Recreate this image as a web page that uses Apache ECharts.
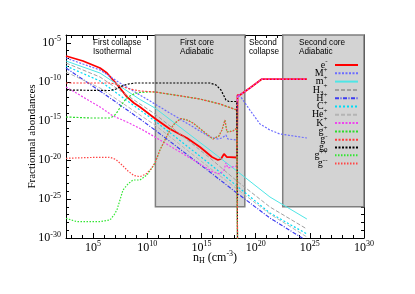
<!DOCTYPE html>
<html><head><meta charset="utf-8">
<script src="https://cdn.jsdelivr.net/npm/echarts@6/dist/echarts.min.js"></script>
<style>html,body{margin:0;padding:0;background:#fff}#c{width:415px;height:294px}</style>
</head><body><div id="c"></div>
<script>
// All values are log10: x = log10(nH / cm^-3), y = log10(fractional abundance)
const xMajorTicks = [5, 10, 15, 20, 25, 30];
const xMinorTicks = [3,4,6,7,8,9,11,12,13,14,16,17,18,19,21,22,23,24,26,27,28,29];
const yMajorTicks = [-30, -25, -20, -15, -10, -5];
const yMinorTicks = [-29,-28,-27,-26,-24,-23,-22,-21,-19,-18,-17,-16,-14,-13,-12,-11,-9,-8,-7,-6,-4];

const firstCoreRange = [10.75, 19.0];
const secondCoreRange = [22.5, 30];
const coreRangeY = [-26, -4];

const eMinus = [[2.5,-6.69],[4.07,-7.33],[5.64,-8.23],[6.28,-8.87],[6.84,-9.76],[7.48,-10.78],[8.13,-11.93],[8.77,-12.71],[9.33,-13.22],[10.71,-14.70],[12.09,-16.04],[13.66,-17.19],[14.86,-18.35],[15.97,-19.63],[16.52,-20.01],[16.80,-19.88],[17.08,-19.24],[17.26,-19.11],[17.35,-19.63],[17.63,-19.63],[18.27,-19.69],[18.33,-11.69],[18.55,-11.69],[19.47,-10.79],[20.58,-9.64],[24.73,-9.64]];
const mPlus = [[2.5,-6.95],[4.07,-7.72],[5.64,-8.48],[7.48,-10.15],[9.33,-11.69],[10.71,-12.84],[12.09,-14.0],[13.94,-15.53],[15.14,-16.55],[15.78,-17.06],[16.52,-17.32],[16.89,-17.19],[17.26,-16.81],[17.44,-17.32],[18.27,-17.45],[18.33,-11.69],[18.64,-11.95],[19.47,-13.61],[20.40,-15.40],[21.32,-16.17],[22.24,-16.68],[24.73,-17.19]];
const mPlusMolecular = [[2.5,-7.33],[5.64,-8.87],[9.33,-12.26],[10.71,-13.35],[15.78,-18.73],[18.27,-21.42],[21.32,-24.75],[24.73,-27.57]];
const h3Plus = [[2.5,-7.59],[5.64,-9.38],[9.33,-12.84],[10.71,-14.12],[15.78,-19.75],[18.27,-22.70],[21.32,-26.03],[24.73,-28.85]];
const hPlus = [[2.5,-8.23],[5.64,-11.17],[9.33,-14.76],[10.71,-16.17],[15.78,-21.55],[18.27,-24.24],[21.32,-27.44],[24.73,-30.38]];
const cPlus = [[2.5,-7.97],[5.64,-9.89],[9.33,-13.61],[10.71,-15.02],[15.78,-20.52],[18.27,-23.34],[21.32,-26.80],[24.73,-29.49]];
const hePlus = [[2.5,-8.74],[5.64,-10.79],[9.33,-14.25],[10.71,-15.53],[15.78,-21.03],[18.27,-23.72],[21.32,-26.93],[24.73,-29.87]];
const kPlus = [[2.5,-10.66],[4.07,-11.94],[5.64,-13.22],[6.84,-14.37],[8.13,-15.14],[9.60,-16.17],[10.71,-17.06],[12.09,-18.22],[13.94,-19.75],[15.33,-20.91],[16.06,-21.55],[16.71,-21.80],[17.08,-21.29],[17.26,-20.39],[17.44,-21.03],[18.27,-20.78],[18.33,-11.69],[18.55,-11.69],[19.47,-10.79],[20.58,-9.64],[24.73,-9.64]];
const gPlus = [[2.5,-14.50],[4.71,-14.63],[6.56,-14.63],[6.93,-14.37],[7.30,-13.73],[7.67,-12.84],[8.04,-12.20],[8.40,-11.81],[8.87,-11.49],[9.33,-11.36],[10.06,-11.30],[10.71,-11.30],[12.56,-11.69],[14.86,-12.20],[16.71,-12.84],[18.27,-13.61],[18.33,-31]];
const gMinus = [[2.5,-10.15],[6.56,-10.15],[7.11,-10.28],[7.67,-10.60],[8.40,-10.92],[9.33,-11.17],[10.71,-11.30],[12.56,-11.69],[14.86,-12.20],[16.71,-12.84],[18.27,-13.61],[18.33,-31]];
const gZero = [[2.5,-11.05],[6.56,-11.11],[7.11,-10.92],[7.67,-10.53],[8.22,-10.28],[8.87,-10.15],[15.78,-10.15],[16.34,-10.40],[16.80,-11.05],[17.08,-11.81],[17.26,-12.33],[17.54,-12.52],[18.27,-12.52],[18.33,-31]];
const gPlusPlus = [[2.5,-27.48],[3.51,-27.91],[5.64,-27.91],[6.56,-27.69],[6.93,-27.05],[7.20,-26.41],[7.48,-25.13],[7.76,-23.85],[8.22,-23.08],[8.68,-22.57],[9.33,-22.57],[9.97,-21.93],[10.43,-21.03],[10.71,-20.39],[11.17,-18.73],[11.63,-17.45],[12.09,-16.17],[12.56,-15.27],[13.11,-14.70],[13.66,-14.89],[14.22,-15.27],[15.14,-16.30],[16.06,-17.32],[16.61,-16.94],[16.89,-16.17],[17.17,-14.89],[17.35,-16.42],[17.90,-16.30],[18.27,-15.91],[18.33,-31]];
const gMinusMinus = [[2.5,-19.79],[4.71,-19.69],[6.56,-19.66],[7.11,-19.95],[7.67,-20.65],[8.22,-21.42],[8.77,-22.0],[9.33,-22.15],[9.88,-21.80],[10.34,-21.16],[10.71,-20.39],[11.17,-18.73],[11.63,-17.45],[12.09,-16.17],[12.56,-15.27],[13.11,-14.70],[13.66,-14.89],[14.22,-15.27],[15.14,-16.30],[16.06,-17.32],[16.61,-16.94],[16.89,-16.17],[17.17,-14.89],[17.35,-16.42],[17.90,-16.30],[18.27,-15.91],[18.33,-31]];

const speciesNames = ['e-','M+','m+','H3+','H+','C+','He+','K+','g+','g-','g0','g++','g--'];
const speciesData = [eMinus,mPlus,mPlusMolecular,h3Plus,hPlus,cPlus,hePlus,kPlus,gPlus,gMinus,gZero,gPlusPlus,gMinusMinus];

const styles = {
  'e-':  {color:'#ff0000', type:'solid', width:1.8},
  'M+':  {color:'#6b6bff', type:[2,1.5], width:1.2},
  'm+':  {color:'#4ee6e6', type:'solid', width:1},
  'H3+': {color:'#a0a0a0', type:[4,2], width:1},
  'H+':  {color:'#3c3cf0', type:[4,1.5,1,1.5], width:1.2},
  'C+':  {color:'#00dcf5', type:[2,2], width:1.2},
  'He+': {color:'#b4b4b4', type:[4,2], width:1},
  'K+':  {color:'#ee44ee', type:[2,1.5], width:1.2},
  'g+':  {color:'#2ddc2d', type:[2,1.5], width:1.2},
  'g-':  {color:'#ff3c3c', type:[2,1.5], width:1.2},
  'g0':  {color:'#000000', type:[2,1.5], width:1.2},
  'g++': {color:'#33e633', type:[1.5,1.5], width:1.2},
  'g--': {color:'#ff4646', type:[1.5,1.5], width:1.2}
};
const legendRich = {
  'e-':'{b|e}{s|-}', 'M+':'{b|M}{s|+}', 'm+':'{b|m}{s|+}', 'H3+':'{b|H}{u|3}{s|+}',
  'H+':'{b|H}{s|+}', 'C+':'{b|C}{s|+}', 'He+':'{b|He}{s|+}', 'K+':'{b|K}{s|+}',
  'g+':'{b|g}{s|+}', 'g-':'{b|g}{s|-}', 'g0':'{b|g}{u|0}', 'g++':'{b|g}{s|++}', 'g--':'{b|g}{s|--}'
};

const SERIF = '"Liberation Serif", "DejaVu Serif", serif';
const SANS = '"Liberation Sans", Arial, sans-serif';
const tickRich = {
  b: {fontFamily: SERIF, fontSize: 12, color: '#000'},
  s: {fontFamily: SERIF, fontSize: 8, color: '#000', padding: [0,0,7,0]},
  u: {fontFamily: SERIF, fontSize: 8, color: '#000', padding: [6,0,0,0]}
};
const supFmt = v => '{b|10}{s|' + v + '}';

function xAx(position, ticks, len, showLine, showLabel) {
  return {
    type: 'value', min: 2.5, max: 30, position: position,
    axisLine: {show: showLine, onZero: false, lineStyle: {color: '#000', width: 1}},
    axisTick: {show: true, inside: true, length: len, customValues: ticks, lineStyle: {color: '#000'}},
    axisLabel: {show: showLabel, customValues: xMajorTicks, formatter: supFmt, rich: tickRich, margin: 2},
    splitLine: {show: false}
  };
}
function yAx(position, ticks, len, showLine, showLabel) {
  return {
    type: 'value', min: -30, max: -4, position: position,
    axisLine: {show: showLine, onZero: false, lineStyle: {color: '#000', width: 1}},
    axisTick: {show: true, inside: true, length: len, customValues: ticks, lineStyle: {color: '#000'}},
    axisLabel: {show: showLabel, customValues: yMajorTicks, formatter: supFmt, rich: tickRich, margin: 5},
    splitLine: {show: false}
  };
}

const xAxes = [
  Object.assign(xAx('bottom', xMajorTicks, 5, true, true), {
    name: '{b|n}{u|H}{b| (cm}{s|-3}{b|)}', nameLocation: 'middle', nameGap: 12, nameMoveOverlap: false,
    nameTextStyle: {rich: {
      b: {fontFamily: SERIF, fontSize: 12, color: '#000'},
      s: {fontFamily: SERIF, fontSize: 8, color: '#000', padding: [0,0,7,0]},
      u: {fontFamily: SERIF, fontSize: 8, color: '#000', padding: [6,0,0,0]}
    }}
  }),
  xAx('bottom', xMinorTicks, 3, false, false),
  xAx('top', xMajorTicks, 5, true, false),
  xAx('top', xMinorTicks, 3, false, false)
];
const yAxes = [
  Object.assign(yAx('left', yMajorTicks, 5, true, true), {
    name: 'Fractionnal abondances', nameLocation: 'middle', nameGap: 28, nameMoveOverlap: false,
    nameTextStyle: {fontFamily: SERIF, fontSize: 11, color: '#000'}
  }),
  yAx('left', yMinorTicks, 3, false, false),
  yAx('right', yMajorTicks, 5, true, false),
  yAx('right', yMinorTicks, 3, false, false)
];

const series = [{
  type: 'line', name: 'regions', data: [], silent: true,
  markArea: {
    silent: true,
    itemStyle: {color: '#d3d3d3', borderColor: '#7f7f7f', borderWidth: 1.5},
    data: [
      [{coord: [firstCoreRange[0], coreRangeY[0]]}, {coord: [firstCoreRange[1], coreRangeY[1]]}],
      [{coord: [secondCoreRange[0], coreRangeY[0]]}, {coord: [secondCoreRange[1], coreRangeY[1]]}]
    ]
  }
}];
speciesNames.forEach((n, i) => {
  const st = styles[n];
  series.push({
    type: 'line', name: n, data: speciesData[i], symbol: 'none', showSymbol: false,
    clip: true, z: 3, animation: false,
    color: st.color,
    lineStyle: {color: st.color, type: st.type, width: st.width}
  });
});

const chart = echarts.init(document.getElementById('c'), null, {renderer: 'canvas'});
chart.setOption({
  animation: false,
  backgroundColor: '#fff',
  grid: {left: 66, right: 51, top: 35, bottom: 56, containLabel: false},
  xAxis: xAxes,
  yAxis: yAxes,
  legend: {
    data: speciesNames, orient: 'vertical', right: 51, top: 53, align: 'right',
    itemWidth: 23, itemHeight: 8, itemGap: -5.7, padding: 5, selectedMode: false,
    itemStyle: {opacity: 0, borderWidth: 0},
    formatter: n => legendRich[n] + '{p| }',
    textStyle: {color: '#000', fontFamily: SERIF, fontSize: 10, rich: {
      b: {fontFamily: SERIF, fontSize: 10, lineHeight: 14, color: '#000'},
      s: {fontFamily: SERIF, fontSize: 7, lineHeight: 6, color: '#000', padding: [0,0,7,0]},
      u: {fontFamily: SERIF, fontSize: 7, lineHeight: 6, color: '#000', padding: [6,0,0,0]},
      p: {fontFamily: SERIF, fontSize: 10, lineHeight: 14}
    }}
  },
  graphic: [
    {type: 'text', left: 93, top: 38, z: 10, style: {text: 'First collapse\nIsothermal', font: '8.2px ' + SANS, lineHeight: 9, fill: '#000'}},
    {type: 'text', left: 180, top: 38, z: 10, style: {text: 'First core\nAdiabatic', font: '8.2px ' + SANS, lineHeight: 9, fill: '#000'}},
    {type: 'text', left: 249, top: 38, z: 10, style: {text: 'Second\ncollapse', font: '8.2px ' + SANS, lineHeight: 9, fill: '#000'}},
    {type: 'text', left: 299, top: 38, z: 10, style: {text: 'Second core\nAdiabatic', font: '8.2px ' + SANS, lineHeight: 9, fill: '#000'}}
  ],
  series: series
});
</script></body></html>
